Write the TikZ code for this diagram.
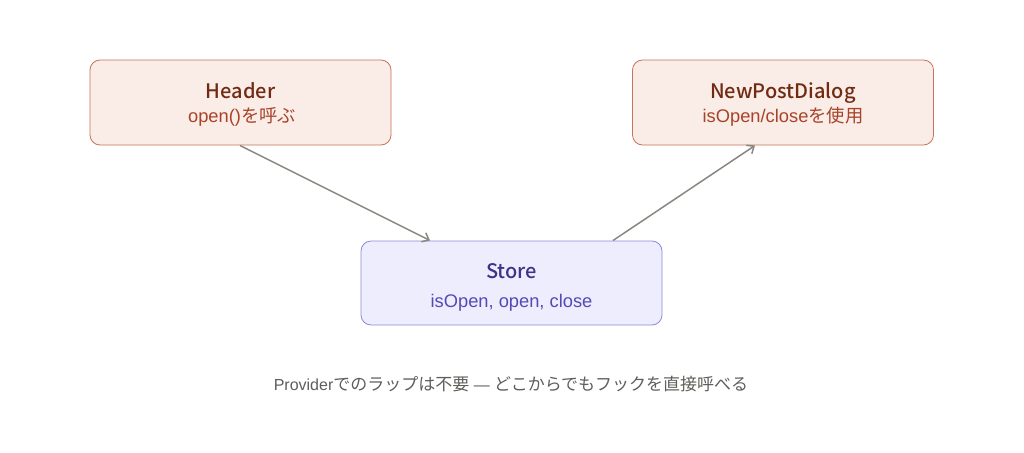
\documentclass[tikz,border=0pt]{standalone}
\usepackage{fontspec}
\setmainfont{Liberation Sans}
\newfontfamily\jpfont{Noto Sans CJK JP}
\newfontfamily\titlefont{Noto Sans CJK JP Medium}
\newcommand{\jp}[1]{{\jpfont #1}}
\usetikzlibrary{arrows.meta}
\definecolor{warmfill}{HTML}{FAECE7}
\definecolor{warmdraw}{HTML}{C8735A}
\definecolor{warmtitle}{HTML}{712B13}
\definecolor{warmsub}{HTML}{A8432A}
\definecolor{coolfill}{HTML}{EEEDFE}
\definecolor{cooldraw}{HTML}{8F88DA}
\definecolor{cooltitle}{HTML}{3C3489}
\definecolor{coolsub}{HTML}{534AB7}
\definecolor{linkgray}{HTML}{888780}
\definecolor{notegray}{HTML}{5F5E5A}
\tikzset{
  x=1pt, y=-1pt,
  warmbox/.style={draw=warmdraw, fill=warmfill, rounded corners=10pt, line width=0.8pt, minimum width=301pt, minimum height=85pt},
  coolbox/.style={draw=cooldraw, fill=coolfill, rounded corners=10pt, line width=0.8pt, minimum width=301pt, minimum height=84pt},
  titletext/.style={anchor=base, inner sep=0pt, font=\titlefont\fontsize{20}{24}\selectfont},
  subtext/.style={anchor=base, inner sep=0pt, font=\fontsize{18.3}{22}\selectfont},
  notetext/.style={anchor=base, inner sep=0pt, text=notegray, font=\fontsize{16}{20}\selectfont},
  link/.style={draw=linkgray, line width=1.5pt, -{Straight Barb[length=6pt,width=10pt]}},
}
\begin{document}
\begin{tikzpicture}
\useasboundingbox (0,0) rectangle (1024,452);
\fill[white] (0,0) rectangle (1024,452);
\node[warmbox] (header) at (240.5,102.5) {};
\node[titletext, text=warmtitle] (headerT) at (240.5,98.5) {Header};
\node[subtext, text=warmsub] (headerS) at (242,122.7) {open()\jp{を呼ぶ}};
\node[warmbox] (dialog) at (783,102.5) {};
\node[titletext, text=warmtitle] (dialogT) at (783,98.5) {NewPostDialog};
\node[subtext, text=warmsub] (dialogS) at (783,122.7) {isOpen/close\jp{を使用}};
\node[coolbox] (store) at (511.5,283) {};
\node[titletext, text=cooltitle] (storeT) at (511.5,278.5) {Store};
\node[subtext, text=coolsub] (storeS) at (511.5,307.5) {isOpen, open, close};
\node[notetext] (note) at (511,390) {Provider\jp{\fontsize{17}{20}\selectfont でのラップは不要} — \jp{\fontsize{17}{20}\selectfont どこからでもフックを直接呼べる}};
\coordinate (a1) at (240,145.5);
\coordinate (a2) at (430,240.5);
\coordinate (b1) at (613,240.5);
\coordinate (b2) at (755,145.5);
\draw[link] (a1) -- (a2);
\draw[link] (b1) -- (b2);
\end{tikzpicture}
\end{document}
